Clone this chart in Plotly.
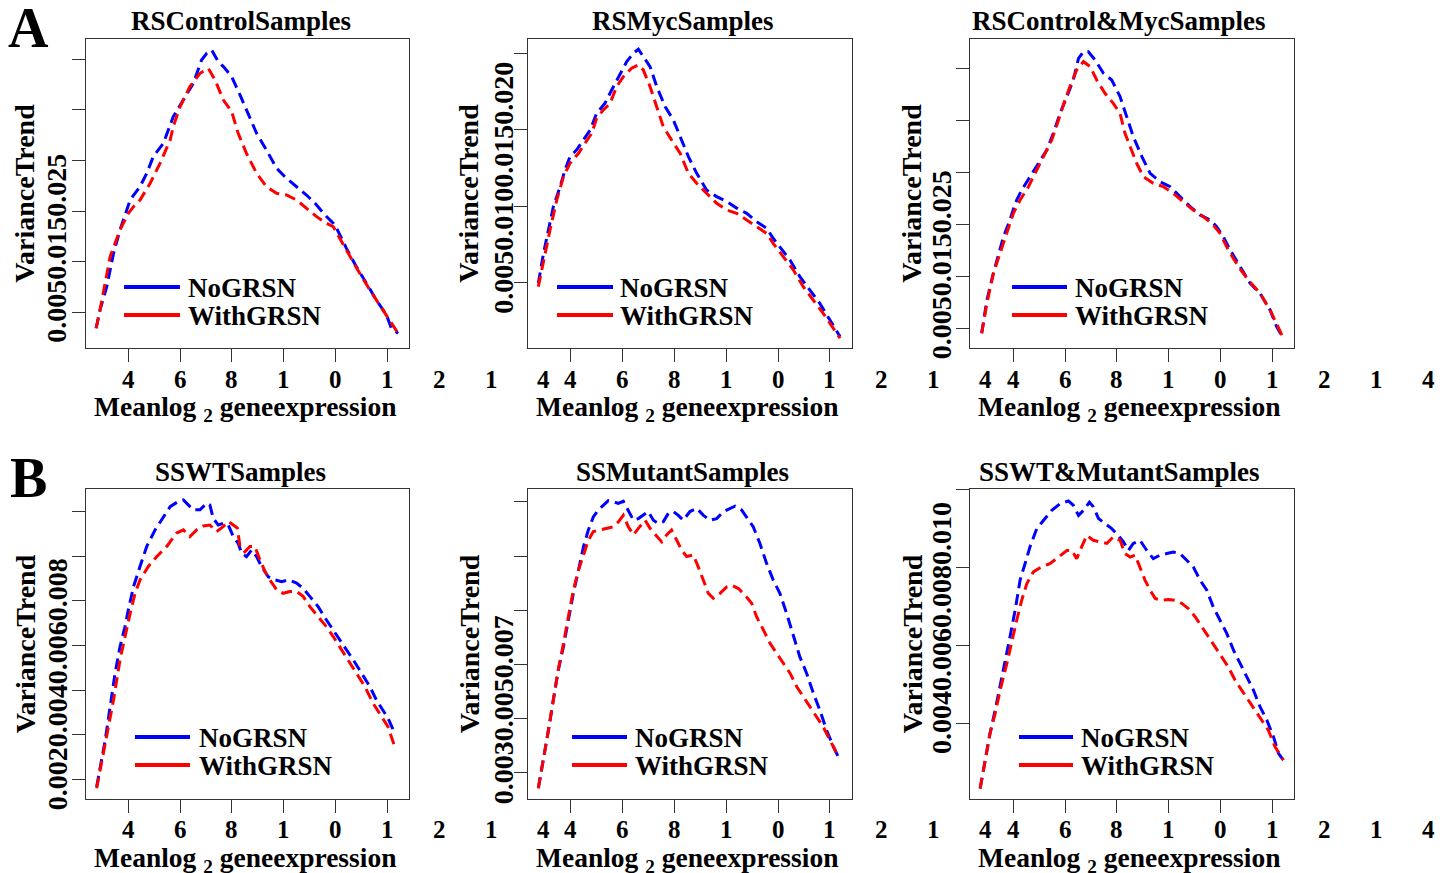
import plotly.graph_objects as go

# ---------------- DATA ----------------
titles = ["RSControlSamples", "RSMycSamples", "RSControl&MycSamples",
          "SSWTSamples", "SSMutantSamples", "SSWT&MutantSamples"]
series_names = ["NoGRSN", "WithGRSN"]
x_tick_vals = [4, 6, 8, 10, 12, 14]
x_tick_label_pos = [4, 6, 8, 10, 12, 14, 16, 18, 20]
x_tick_label_chars = ["4", "6", "8", "1", "0", "1", "2", "1", "4"]
x_label = "Meanlog <sub>2</sub> geneexpression"
y_label = "VarianceTrend"

# Panel A1: RSControlSamples
rsc_x_no = [2.77, 2.92, 3.18, 3.44, 3.69, 4.08, 4.46, 4.72, 4.97, 5.36, 5.74, 6.13, 6.51, 6.83, 7.03, 7.22,
            7.47, 7.67, 7.99, 8.31, 8.63, 8.95, 9.33, 9.72, 10.10, 10.49, 10.87, 11.26, 11.58, 11.90, 12.03,
            12.41, 12.79, 13.18, 13.56, 13.95, 14.14, 14.40]
rsc_y_no = [0.00342, 0.00523, 0.00754, 0.01083, 0.01314, 0.0161, 0.01742, 0.01874, 0.02038, 0.0217, 0.02433,
            0.02597, 0.02762, 0.02993, 0.03059, 0.03092, 0.02977, 0.02928, 0.02829, 0.02648, 0.02467, 0.02269,
            0.02104, 0.01923, 0.01824, 0.01742, 0.01659, 0.01561, 0.01462, 0.0138, 0.0133, 0.01132, 0.00951,
            0.00787, 0.00622, 0.00474, 0.00342, 0.00292]
rsc_x_with = [2.77, 2.92, 3.31, 3.69, 4.01, 4.21, 4.46, 4.85, 5.23, 5.62, 5.74, 6.0, 6.38, 6.77, 7.09, 7.35,
              7.67, 7.99, 8.24, 8.56, 8.95, 9.33, 9.72, 10.1, 10.49, 10.87, 11.26, 11.64, 11.9, 12.15, 12.54,
              12.92, 13.31, 13.69, 14.01, 14.40]
rsc_y_with = [0.00342, 0.00523, 0.0105, 0.01314, 0.01478, 0.01544, 0.0161, 0.01775, 0.01972, 0.02203, 0.02335,
              0.02531, 0.0273, 0.02862, 0.02911, 0.02796, 0.02598, 0.02483, 0.02269, 0.02071, 0.01873, 0.01742,
              0.01676, 0.01659, 0.0161, 0.01528, 0.01445, 0.0138, 0.01347, 0.01231, 0.0105, 0.00885, 0.00721,
              0.00572, 0.00441, 0.00292]

# Panel A2: RSMycSamples
rsm_x_no = [2.75, 2.95, 3.14, 3.33, 3.59, 3.78, 3.97, 4.23, 4.49, 4.75, 5.0, 5.32, 5.58, 5.84, 6.16, 6.42, 6.61,
            6.80, 7.06, 7.32, 7.64, 7.96, 8.22, 8.54, 8.86, 9.24, 9.63, 10.02, 10.40, 10.79, 11.17, 11.56, 11.81,
            12.07, 12.46, 12.84, 13.23, 13.61, 14.0, 14.39]
rsm_y_no = [0.00498, 0.00694, 0.00846, 0.00998, 0.01129, 0.01238, 0.01325, 0.01369, 0.01434, 0.01499, 0.01608,
            0.01673, 0.0176, 0.01847, 0.01945, 0.02, 0.02026, 0.01978, 0.01913, 0.01782, 0.01652, 0.01564, 0.01456,
            0.01325, 0.01216, 0.01107, 0.01064, 0.01031, 0.00989, 0.00955, 0.00901, 0.00857, 0.00792, 0.00737,
            0.0065, 0.00541, 0.00454, 0.00367, 0.00258, 0.0015]
rsm_x_with = [2.75, 2.95, 3.2, 3.46, 3.72, 3.97, 4.3, 4.55, 4.81, 5.0, 5.26, 5.52, 5.77, 6.03, 6.35, 6.61, 6.80,
              7.06, 7.32, 7.57, 7.89, 8.22, 8.54, 8.86, 9.24, 9.63, 10.02, 10.40, 10.79, 11.17, 11.56, 11.81,
              12.2, 12.59, 12.97, 13.36, 13.74, 14.39]
rsm_y_with = [0.00476, 0.0065, 0.00846, 0.01041, 0.01194, 0.01281, 0.01347, 0.01412, 0.01477, 0.01575, 0.0163,
              0.01673, 0.01782, 0.01847, 0.01902, 0.01924, 0.01891, 0.01782, 0.01652, 0.01521, 0.01434, 0.01347,
              0.01216, 0.01151, 0.01086, 0.0102, 0.00977, 0.00955, 0.00911, 0.00868, 0.00824, 0.00759, 0.00672,
              0.00585, 0.00476, 0.00389, 0.00302, 0.00139]

# Panel A3: RSControl&MycSamples
rscm_x_no = [2.79, 2.99, 3.24, 3.44, 3.63, 3.88, 4.08, 4.33, 4.65, 4.97, 5.30, 5.55, 5.81, 6.07, 6.32, 6.52,
             6.71, 6.90, 7.16, 7.48, 7.80, 8.12, 8.38, 8.63, 8.96, 9.28, 9.66, 10.05, 10.43, 10.82, 11.20, 11.59,
             11.84, 12.10, 12.36, 12.74, 13.13, 13.51, 13.90, 14.15, 14.41]
rscm_y_no = [0.00452, 0.00772, 0.01029, 0.01221, 0.01381, 0.01542, 0.01702, 0.0183, 0.01958, 0.02087, 0.02215,
             0.02375, 0.02567, 0.02728, 0.02888, 0.03096, 0.0316, 0.0316, 0.0308, 0.02952, 0.02888, 0.02728,
             0.02535, 0.02343, 0.02151, 0.0199, 0.0191, 0.01862, 0.01766, 0.0167, 0.0159, 0.01542, 0.01478,
             0.01381, 0.01253, 0.01093, 0.00933, 0.00837, 0.00676, 0.00516, 0.00404]
rscm_x_with = [2.79, 2.99, 3.24, 3.50, 3.76, 4.01, 4.27, 4.59, 4.91, 5.23, 5.49, 5.75, 6.0, 6.26, 6.45, 6.71,
               6.97, 7.22, 7.54, 7.86, 8.12, 8.31, 8.51, 8.76, 9.02, 9.40, 9.79, 10.17, 10.55, 10.94, 11.33,
               11.71, 11.97, 12.29, 12.68, 13.06, 13.51, 13.90, 14.41]
rscm_y_with = [0.00452, 0.0074, 0.01029, 0.01221, 0.01413, 0.01606, 0.01734, 0.01862, 0.02022, 0.02183, 0.02311,
               0.02503, 0.02696, 0.02872, 0.02984, 0.03064, 0.03016, 0.02888, 0.0276, 0.02663, 0.02567, 0.02375,
               0.02247, 0.02087, 0.01958, 0.01894, 0.01862, 0.01798, 0.01718, 0.01638, 0.01574, 0.01494, 0.01413,
               0.01253, 0.01093, 0.00965, 0.00837, 0.00676, 0.00404]

# Panel B1: SSWTSamples
ssw_x_no = [2.79, 2.92, 3.12, 3.31, 3.50, 3.69, 3.88, 4.01, 4.21, 4.46, 4.72, 5.04, 5.36, 5.62, 5.94, 6.13, 6.32,
            6.51, 6.77, 7.03, 7.15, 7.28, 7.47, 7.67, 7.86, 8.05, 8.24, 8.37, 8.56, 8.76, 8.95, 9.14, 9.40, 9.65,
            9.92, 10.17, 10.49, 10.74, 11.0, 11.32, 11.64, 11.90, 12.15, 12.41, 12.67, 12.99, 13.31, 13.56, 13.82,
            14.01, 14.27]
ssw_y_no = [0.001836, 0.00228, 0.00288, 0.00363, 0.00438, 0.00497, 0.00542, 0.0058, 0.00632, 0.00677, 0.00722,
            0.00759, 0.00789, 0.00811, 0.00823, 0.00826, 0.00815, 0.00804, 0.00804, 0.00819, 0.00815, 0.00785,
            0.0077, 0.00774, 0.0077, 0.00744, 0.00729, 0.00707, 0.00699, 0.00714, 0.00699, 0.00677, 0.00654,
            0.00647, 0.00643, 0.00647, 0.0064, 0.00628, 0.0061, 0.00587, 0.00557, 0.00535, 0.00512, 0.0049,
            0.00468, 0.00438, 0.00408, 0.00378, 0.00355, 0.00337, 0.00303]
ssw_x_with = [2.79, 2.98, 3.18, 3.44, 3.69, 3.88, 4.08, 4.27, 4.46, 4.78, 5.10, 5.49, 5.87, 6.13, 6.38, 6.64,
              6.90, 7.15, 7.41, 7.67, 7.86, 8.05, 8.21, 8.31, 8.50, 8.69, 8.88, 9.08, 9.27, 9.46, 9.72, 9.97, 10.23,
              10.49, 10.74, 11.0, 11.32, 11.64, 11.90, 12.15, 12.47, 12.79, 13.12, 13.44, 13.76, 14.01, 14.27]
ssw_y_with = [0.0018, 0.00236, 0.00303, 0.00378, 0.00468, 0.0052, 0.00572, 0.00617, 0.00647, 0.00677, 0.00699,
              0.00722, 0.00752, 0.00759, 0.00744, 0.00759, 0.00768, 0.0077, 0.00755, 0.00767, 0.00778, 0.0077,
              0.00763, 0.00722, 0.0071, 0.00722, 0.00722, 0.00692, 0.00666, 0.00647, 0.00625, 0.00617, 0.00621,
              0.00621, 0.0061, 0.00587, 0.00565, 0.00542, 0.0052, 0.00497, 0.00468, 0.00438, 0.00408, 0.0037,
              0.0034, 0.00318, 0.00273]

# Panel B2: SSMutantSamples
ssm_x_no = [2.75, 2.95, 3.14, 3.33, 3.52, 3.72, 3.91, 4.10, 4.30, 4.49, 4.68, 4.87, 5.07, 5.26, 5.45, 5.65, 5.84,
            6.03, 6.22, 6.42, 6.61, 6.80, 6.99, 7.19, 7.38, 7.57, 7.77, 7.96, 8.15, 8.34, 8.60, 8.86, 9.12, 9.37,
            9.63, 9.89, 10.14, 10.34, 10.59, 10.79, 11.04, 11.30, 11.56, 11.81, 12.07, 12.33, 12.59, 12.84, 13.10,
            13.36, 13.61, 13.87, 14.13, 14.32]
ssm_y_no = [0.00272, 0.00324, 0.00379, 0.00435, 0.0049, 0.00533, 0.00582, 0.00631, 0.00674, 0.00717, 0.00748,
            0.00772, 0.00785, 0.00794, 0.00802, 0.008, 0.00797, 0.00801, 0.00785, 0.00766, 0.00769, 0.00775,
            0.00782, 0.00766, 0.0076, 0.00763, 0.00779, 0.00782, 0.00775, 0.00766, 0.00782, 0.00788, 0.00775,
            0.00766, 0.00769, 0.00782, 0.00788, 0.00792, 0.00785, 0.00772, 0.00754, 0.00723, 0.00686, 0.00656,
            0.00631, 0.00594, 0.00551, 0.00514, 0.00484, 0.00447, 0.00416, 0.00379, 0.00349, 0.0033]
ssm_x_with = [2.75, 2.95, 3.14, 3.33, 3.52, 3.72, 3.91, 4.10, 4.30, 4.49, 4.68, 4.87, 5.13, 5.39, 5.65, 5.84,
              6.03, 6.22, 6.42, 6.61, 6.87, 7.06, 7.32, 7.51, 7.70, 7.89, 8.09, 8.28, 8.47, 8.73, 8.92, 9.12, 9.31,
              9.50, 9.76, 10.02, 10.21, 10.47, 10.72, 10.98, 11.17, 11.43, 11.69, 11.94, 12.20, 12.46, 12.72,
              12.97, 13.23, 13.49, 13.74, 14.0, 14.32]
ssm_y_with = [0.00272, 0.00324, 0.00379, 0.00435, 0.0049, 0.00539, 0.00588, 0.00637, 0.00674, 0.00702, 0.00729,
              0.00745, 0.00748, 0.00751, 0.00754, 0.00763, 0.00775, 0.00754, 0.00739, 0.00751, 0.00766, 0.00751,
              0.00736, 0.00726, 0.00739, 0.00748, 0.00729, 0.00711, 0.00699, 0.00702, 0.0068, 0.00656, 0.00631,
              0.00622, 0.00631, 0.00643, 0.00646, 0.0064, 0.00628, 0.00613, 0.00588, 0.00564, 0.00539, 0.00521,
              0.00502, 0.00484, 0.00459, 0.00441, 0.00422, 0.00404, 0.00385, 0.00361, 0.0033]

# Panel B3: SSWT&MutantSamples
sswm_x_no = [2.73, 2.92, 3.11, 3.31, 3.50, 3.69, 3.88, 4.08, 4.27, 4.46, 4.65, 4.91, 5.17, 5.49, 5.81, 6.13, 6.32,
             6.52, 6.71, 6.94, 7.09, 7.29, 7.54, 7.80, 8.05, 8.25, 8.44, 8.63, 8.89, 9.15, 9.40, 9.66, 9.92, 10.17,
             10.43, 10.69, 10.94, 11.20, 11.46, 11.71, 11.97, 12.23, 12.49, 12.74, 13.0, 13.26, 13.51, 13.77,
             14.03, 14.22, 14.41]
sswm_y_no = [0.00233, 0.00306, 0.00374, 0.00434, 0.00494, 0.00554, 0.00622, 0.00691, 0.00768, 0.0081, 0.00853,
             0.009, 0.00921, 0.00947, 0.00964, 0.00971, 0.0096, 0.00934, 0.00947, 0.00968, 0.00956, 0.00926,
             0.00913, 0.009, 0.00883, 0.00866, 0.00844, 0.00862, 0.0087, 0.00844, 0.00823, 0.00832, 0.00836,
             0.0084, 0.00836, 0.00819, 0.00802, 0.00768, 0.00742, 0.00699, 0.00665, 0.00631, 0.00588, 0.00554,
             0.0052, 0.00485, 0.00443, 0.00409, 0.00366, 0.00323, 0.00306]
sswm_x_with = [2.73, 2.92, 3.11, 3.31, 3.50, 3.76, 3.95, 4.14, 4.33, 4.53, 4.78, 5.10, 5.42, 5.75, 6.07, 6.26,
               6.45, 6.64, 6.84, 7.09, 7.35, 7.61, 7.86, 8.12, 8.31, 8.51, 8.70, 8.89, 9.08, 9.28, 9.47, 9.73, 9.98,
               10.24, 10.50, 10.75, 11.01, 11.27, 11.52, 11.78, 12.04, 12.29, 12.55, 12.81, 13.06, 13.32, 13.58,
               13.83, 14.09, 14.41]
sswm_y_with = [0.00233, 0.00306, 0.00374, 0.00426, 0.00485, 0.00554, 0.00614, 0.00665, 0.00716, 0.00759, 0.00789,
               0.00802, 0.0081, 0.00827, 0.00844, 0.00844, 0.00823, 0.00853, 0.00883, 0.0087, 0.00866, 0.00862,
               0.00879, 0.0087, 0.00836, 0.00827, 0.00832, 0.00802, 0.00768, 0.00742, 0.00721, 0.00716, 0.00718,
               0.00716, 0.00708, 0.00695, 0.00674, 0.00648, 0.00622, 0.00597, 0.00571, 0.00545, 0.00511, 0.00485,
               0.0046, 0.00434, 0.00409, 0.00383, 0.0034, 0.00306]

y_tick_vals = [
    [0.005, 0.010, 0.015, 0.020, 0.025, 0.030],
    [0.005, 0.010, 0.015, 0.020],
    [0.005, 0.010, 0.015, 0.020, 0.025, 0.030],
    [0.002, 0.003, 0.004, 0.005, 0.006, 0.007, 0.008],
    [0.003, 0.004, 0.005, 0.006, 0.007, 0.008],
    [0.004, 0.006, 0.008, 0.010],
]
y_tick_strings = ["0.0050.0150.025", "0.0050.0100.0150.020", "0.0050.0150.025",
                  "0.0020.0040.0060.008", "0.0030.0050.007", "0.0040.0060.0080.010"]

panel_series = [
    (rsc_x_no, rsc_y_no, rsc_x_with, rsc_y_with),
    (rsm_x_no, rsm_y_no, rsm_x_with, rsm_y_with),
    (rscm_x_no, rscm_y_no, rscm_x_with, rscm_y_with),
    (ssw_x_no, ssw_y_no, ssw_x_with, ssw_y_with),
    (ssm_x_no, ssm_y_no, ssm_x_with, ssm_y_with),
    (sswm_x_no, sswm_y_no, sswm_x_with, sswm_y_with),
]

# ---------------- LAYOUT / STYLE ----------------
W, H = 1453, 873
FONT = "Liberation Serif, Times New Roman, serif"
BLUE = "#0000FF"
RED = "#FF0000"
col_left = [86, 527.7, 970]
col_right = [409.3, 851.7, 1294]
row_top = [39, 489.3]
row_bottom = [348.3, 799]
x_ranges = [[2.38, 14.83], [2.34, 14.84], [2.34, 14.82]]
y_ranges = [[0.00144, 0.03201], [0.000736, 0.02093], [0.00308, 0.03282],
            [0.00156, 0.0085], [0.00252, 0.00823], [0.00206, 0.01001]]
title_shift = [-7, -7, -13]
ylab_off = [-61, -58.7, -58]
ytick_off = [-29, -24, -28.5]
legend_line = [(124, 180, 186), (557, 613, 618), (1012, 1067, 1073),
               (135, 190, 197), (572, 627, 633), (1019, 1073, 1079)]
title_y = [21, 472]
xlab_y = [406, 857]
xtick_y = [380, 830]
legend_y = [(287, 315), (737, 765)]
letters = [("A", 28, 28), ("B", 28, 478)]


def px(xp, yp):
    return xp / W, 1 - yp / H


fig = go.Figure()
annotations = []
shapes = []

for i in range(6):
    r, c = divmod(i, 3)
    n = i + 1
    xa = "x" if n == 1 else f"x{n}"
    ya = "y" if n == 1 else f"y{n}"
    xl, xr = col_left[c], col_right[c]
    yt, yb = row_top[r], row_bottom[r]
    xno, yno, xwi, ywi = panel_series[i]
    fig.add_trace(go.Scatter(x=xno, y=yno, mode="lines", name=series_names[0], xaxis=xa, yaxis=ya,
                             line=dict(color=BLUE, width=3, dash="11px,6px"), showlegend=False))
    fig.add_trace(go.Scatter(x=xwi, y=ywi, mode="lines", name=series_names[1], xaxis=xa, yaxis=ya,
                             line=dict(color=RED, width=3, dash="11px,6px"), showlegend=False))
    axis_common = dict(showgrid=False, zeroline=False, showline=True, mirror=True, linecolor="#333333",
                       linewidth=1.3, ticks="outside", ticklen=13, tickwidth=1.3, tickcolor="#333333",
                       showticklabels=False)
    fig.update_layout(**{
        ("xaxis" if n == 1 else f"xaxis{n}"): dict(domain=[xl / W, xr / W], range=x_ranges[c],
                                                     tickvals=x_tick_vals, anchor=ya, **axis_common),
        ("yaxis" if n == 1 else f"yaxis{n}"): dict(domain=[1 - yb / H, 1 - yt / H], range=y_ranges[i],
                                                     tickvals=y_tick_vals[i], anchor=xa, **axis_common),
    })
    bold = dict(family=FONT, color="black", weight="bold")
    cx = (xl + xr) / 2
    # title
    tx, ty = px(cx + title_shift[c], title_y[r])
    annotations.append(dict(text=titles[i], x=tx, y=ty, xref="paper", yref="paper", showarrow=False,
                            xanchor="center", yanchor="middle", font=dict(size=27, **bold)))
    # x label
    tx, ty = px(cx - 3, xlab_y[r] + 2)
    annotations.append(dict(text=x_label, x=tx, y=ty, xref="paper", yref="paper", showarrow=False,
                            xanchor="center", yanchor="middle", font=dict(size=27.5, **bold)))
    # x tick label characters
    x0, x1 = x_ranges[c]
    for v, ch in zip(x_tick_label_pos, x_tick_label_chars):
        xp = xl + (v - x0) / (x1 - x0) * (xr - xl)
        tx, ty = px(xp, xtick_y[r] - 1)
        annotations.append(dict(text=ch, x=tx, y=ty, xref="paper", yref="paper", showarrow=False,
                                xanchor="center", yanchor="middle", font=dict(size=25, **bold)))
    # y label
    tx, ty = px(xl + ylab_off[c], (yt + yb) / 2)
    annotations.append(dict(text=y_label, x=tx, y=ty, xref="paper", yref="paper", showarrow=False,
                            textangle=-90, xanchor="center", yanchor="middle", font=dict(size=28, **bold)))
    # y tick string
    y0, y1 = y_ranges[i]
    first_px = yb - (y_tick_vals[i][0] - y0) / (y1 - y0) * (yb - yt)
    tx, ty = px(xl + ytick_off[c], first_px + 33)
    annotations.append(dict(text=y_tick_strings[i], x=tx, y=ty, xref="paper", yref="paper", showarrow=False,
                            textangle=-90, xanchor="center", yanchor="bottom", font=dict(size=28, **bold)))
    # legend
    lx0, lx1, ltx = legend_line[i]
    for (ly, col, name) in zip(legend_y[r], [BLUE, RED], series_names):
        a0, b0 = px(lx0, ly)
        a1, _ = px(lx1, ly)
        shapes.append(dict(type="line", xref="paper", yref="paper", x0=a0, x1=a1, y0=b0, y1=b0,
                           line=dict(color=col, width=4)))
        tx, ty = px(ltx, ly + 1)
        annotations.append(dict(text=name, x=tx, y=ty, xref="paper", yref="paper", showarrow=False,
                                xanchor="left", yanchor="middle", font=dict(size=27, **bold)))

for (L, lx, ly) in letters:
    tx, ty = px(lx, ly)
    annotations.append(dict(text=L, x=tx, y=ty, xref="paper", yref="paper", showarrow=False,
                            xanchor="center", yanchor="middle",
                            font=dict(size=56, family=FONT, color="black", weight="bold")))

fig.update_layout(width=W, height=H, margin=dict(l=0, r=0, t=0, b=0), paper_bgcolor="white",
                  plot_bgcolor="white", annotations=annotations, shapes=shapes, showlegend=False)
fig.write_html("out.html", config={"displayModeBar": False},
               post_script="document.body.style.margin='0px';document.body.style.padding='0px';")
